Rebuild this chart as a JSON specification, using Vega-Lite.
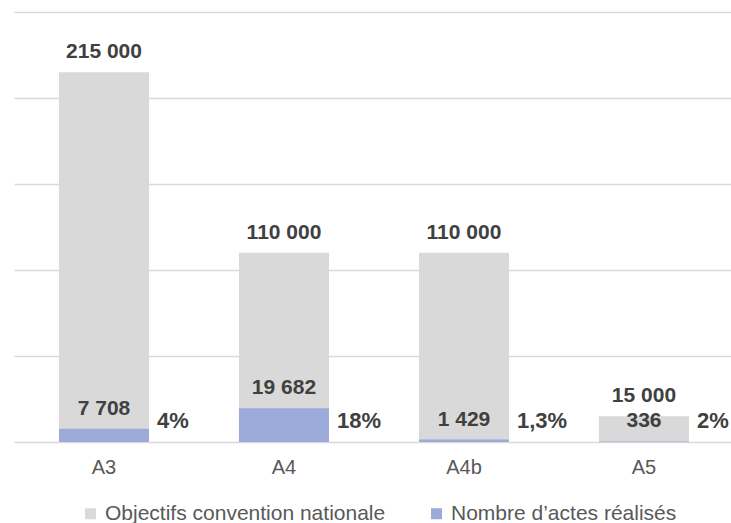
{
  "$schema": "https://vega.github.io/schema/vega-lite/v6.json",
  "width": 717,
  "height": 430,
  "autosize": {"type": "none"},
  "padding": {"left": 14, "top": 12, "right": 0, "bottom": 81},
  "background": "white",
  "config": {
    "view": {"stroke": null},
    "font": "Liberation Sans",
    "locale": {"number": {"decimal": ",", "thousands": " ", "grouping": [3], "currency": ["", " €"]}}
  },
  "data": {
    "values": [
      {"cat": "A3", "objectif": 215000, "realise": 7708, "pct": "4%"},
      {"cat": "A4", "objectif": 110000, "realise": 19682, "pct": "18%"},
      {"cat": "A4b", "objectif": 110000, "realise": 1429, "pct": "1,3%"},
      {"cat": "A5", "objectif": 15000, "realise": 336, "pct": "2%"}
    ]
  },
  "encoding": {
    "x": {
      "field": "cat", "type": "nominal", "sort": null,
      "scale": {"paddingInner": 0.5, "paddingOuter": 0.2417, "align": 0.517},
      "axis": {"title": null, "labelAngle": 0, "domain": false, "ticks": false, "labelFontSize": 20, "labelColor": "#595959", "labelPadding": 15, "grid": false}
    }
  },
  "layer": [
    {
      "mark": {"type": "bar"},
      "encoding": {
        "y": {"field": "objectif", "type": "quantitative", "scale": {"domain": [0, 250000], "nice": false},
          "axis": {"title": null, "labels": false, "ticks": false, "domain": false, "values": [0, 50000, 100000, 150000, 200000, 250000], "gridColor": "#D9D9D9", "gridWidth": 1.3}},
        "color": {"datum": "Objectifs convention nationale", "type": "nominal",
          "scale": {"domain": ["Objectifs convention nationale", "Nombre d’actes réalisés"], "range": ["#D9D9D9", "#9BAAD8"]},
          "legend": {"title": null, "orient": "none", "legendX": 66, "legendY": 491, "direction": "horizontal", "symbolType": "square", "symbolSize": 121, "symbolStrokeWidth": 0, "labelFontSize": 21, "labelColor": "#595959", "labelOffset": 4, "columnPadding": 40, "labelLimit": 400}
        }
      }
    },
    {
      "mark": {"type": "bar"},
      "encoding": {
        "y": {"field": "realise", "type": "quantitative"},
        "color": {"datum": "Nombre d’actes réalisés", "type": "nominal"}
      }
    },
    {
      "mark": {"type": "text", "fontWeight": "bold", "fontSize": 21, "color": "#404040", "baseline": "alphabetic", "dy": -14},
      "encoding": {
        "y": {"field": "objectif", "type": "quantitative"},
        "text": {"field": "objectif", "type": "quantitative", "format": ",d"}
      }
    },
    {
      "mark": {"type": "text", "fontWeight": "bold", "fontSize": 21, "color": "#404040", "baseline": "alphabetic", "dy": -14},
      "encoding": {
        "y": {"field": "realise", "type": "quantitative"},
        "text": {"field": "realise", "type": "quantitative", "format": ",d"}
      }
    },
    {
      "mark": {"type": "text", "fontWeight": "bold", "fontSize": 22, "color": "#404040", "baseline": "alphabetic", "align": "left", "dx": 53, "dy": -14},
      "encoding": {
        "y": {"datum": 0, "type": "quantitative"},
        "text": {"field": "pct", "type": "nominal"}
      }
    }
  ]
}
